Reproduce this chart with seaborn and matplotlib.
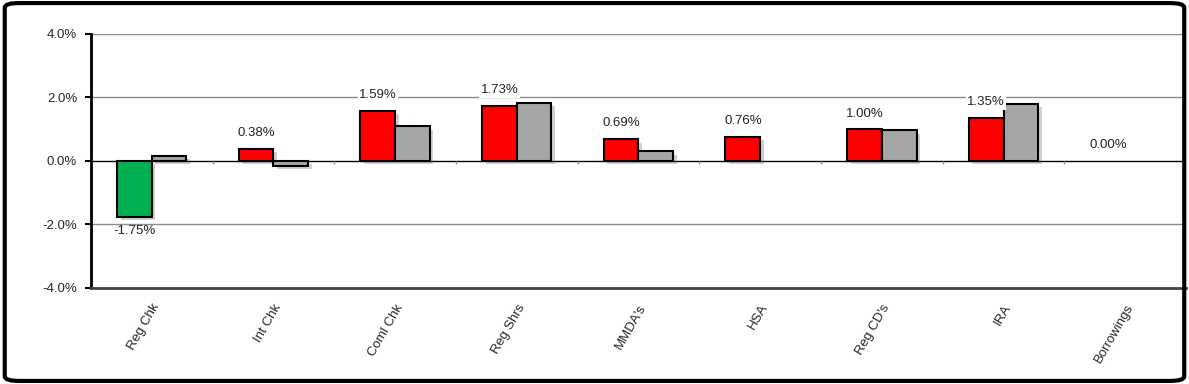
import numpy as np
import pandas as pd
import seaborn as sns
import matplotlib.pyplot as plt
import matplotlib.patheffects as pe
from matplotlib.patches import FancyBboxPatch

# data
categories = ["Reg Chk", "Int Chk", "Coml Chk", "Reg Shrs", "MMDA's", "HSA", "Reg CD's", "IRA", "Borrowings"]
current = [-1.75, 0.38, 1.59, 1.73, 0.69, 0.76, 1.00, 1.35, 0.00]
prior = [0.16, -0.15, 1.10, 1.83, 0.31, 0.00, 0.97, 1.80, 0.00]
yticks = [-4, -2, 0, 2, 4]

df = pd.DataFrame({
    "category": categories * 2,
    "series": ["current"] * len(categories) + ["prior"] * len(categories),
    "value": current + prior,
})

sns.set_style("white")
plt.rcParams['font.family'] = ['Liberation Sans', 'DejaVu Sans']

fig = plt.figure(figsize=(11.89, 3.84), dpi=100)
ax = fig.add_axes([0.0765, 0.25, 0.921, 0.6615])

# grid lines behind bars
for t in yticks:
    if t == 0:
        continue
    ax.axhline(t, color="#8c8c8c", lw=1.0, zorder=0)

sns.barplot(data=df, x="category", y="value", hue="series",
            palette={"current": "#FF0000", "prior": "#A6A6A6"}, saturation=1,
            width=0.57, edgecolor="black", linewidth=1.5,
            legend=False, ax=ax, zorder=2)

shadow = [pe.SimplePatchShadow(offset=(2.5, -2.5), shadow_rgbFace="#666666", alpha=0.3), pe.Normal()]
n = len(categories)
values = current + prior
for i, p in enumerate(ax.patches[:2 * n]):
    if values[i] == 0:
        p.set_visible(False)
        continue
    p.set_path_effects(shadow)
    if i < n and current[i] < 0:
        p.set_facecolor("#00B050")

# zero line with small category separator ticks
ax.axhline(0, color="black", lw=1.0, zorder=1)
ax.vlines(np.arange(n - 1) + 0.5, -0.1, 0, color="#9a9a9a", lw=1.0, zorder=1)

# value labels for current series
for i, p in enumerate(ax.patches[:n]):
    x = p.get_x() + p.get_width() / 2
    v = current[i]
    if v < 0:
        ax.annotate(f"{v:.2f}%", (x, v), xytext=(0, -6), textcoords="offset points",
                    ha="center", va="top", fontsize=9.5, color="#222222")
    else:
        ax.annotate(f"{v:.2f}%", (x, v), xytext=(0, 7), textcoords="offset points",
                    ha="center", va="bottom", fontsize=9.5, color="#222222",
                    bbox=dict(boxstyle="square,pad=0.1", fc="white", ec="none"))

ax.set_ylim(-4, 4)
ax.set_xlim(-0.5, n - 0.5)
ax.set_yticks(yticks)
ax.set_yticklabels([f"{t:.1f}%" for t in yticks], fontsize=9.5)
ax.set_xticks(range(n))
ax.set_xticklabels(categories, rotation=60, ha="right", rotation_mode="anchor", fontsize=9.5)
ax.tick_params(axis="x", length=0, pad=10)
ax.tick_params(axis="y", length=4, width=1.5, left=True, color="black", pad=6)
ax.set_xlabel("")
ax.set_ylabel("")

ax.spines["top"].set_visible(False)
ax.spines["right"].set_visible(False)
ax.spines["left"].set_linewidth(2.0)
ax.spines["left"].set_color("black")
ax.spines["bottom"].set_linewidth(2.0)
ax.spines["bottom"].set_color("#444444")

# rounded outer frame
frame = FancyBboxPatch((0.004, 0.008), 0.992, 0.984, boxstyle="round,pad=0,rounding_size=0.012",
                       transform=fig.transFigure, fill=False, ec="black", lw=3, zorder=10)
fig.patches.append(frame)

fig.savefig("out.png", dpi=100)
